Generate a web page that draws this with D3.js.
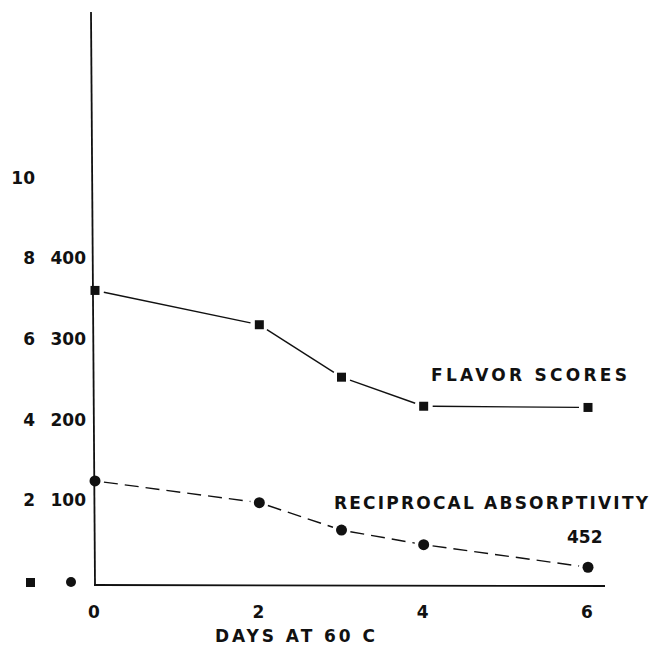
<!DOCTYPE html>
<html><head><meta charset="utf-8">
<script src="https://cdn.jsdelivr.net/npm/d3@7"></script>
<style>body{margin:0;background:#fff}svg{display:block}text{font-family:"DejaVu Sans",sans-serif;font-weight:bold;fill:#111}</style>
</head><body>
<script>
const days = [0, 2, 3, 4, 6];
const flavorScores = [7.2, 6.35, 5.05, 4.33, 4.3];
const reciprocalAbsorptivity = [124, 97, 63, 45, 17];
const xTicks = [0, 2, 4, 6];
const flavorTicks = [2, 4, 6, 8, 10];
const absTicks = [100, 200, 300, 400];

const W = 652, H = 660;
const svg = d3.select("body").append("svg").attr("width", W).attr("height", H);

const x = d3.scaleLinear().domain([0, 6]).range([95, 588]);
const yF = d3.scaleLinear().domain([-0.1, 14.1]).range([585, 12]);
const yA = d3.scaleLinear().domain([-5, 705]).range([585, 12]);

// axes lines
svg.append("line").attr("x1", 91).attr("x2", 95).attr("y1", 12).attr("y2", 585)
  .attr("stroke", "#111").attr("stroke-width", 1.8);
svg.append("line").attr("x1", 94).attr("x2", 605).attr("y1", 585).attr("y2", 586)
  .attr("stroke", "#111").attr("stroke-width", 1.8);

// left tick labels (flavor)
svg.selectAll(".tf").data(flavorTicks).enter().append("text")
  .attr("x", 35).attr("y", d => yF(d)).attr("dy", "0.36em")
  .attr("text-anchor", "end").attr("font-size", 17).text(d => d);
// right tick labels (absorptivity)
svg.selectAll(".ta").data(absTicks).enter().append("text")
  .attr("x", 86).attr("y", d => yA(d)).attr("dy", "0.36em")
  .attr("text-anchor", "end").attr("font-size", 17).text(d => d);
// axis legend symbols
svg.append("rect").attr("x", 26).attr("y", 578).attr("width", 9).attr("height", 9).attr("fill", "#111");
svg.append("circle").attr("cx", 71).attr("cy", 582).attr("r", 5).attr("fill", "#111");

// x tick labels
svg.selectAll(".tx").data(xTicks).enter().append("text")
  .attr("x", d => x(d) - 1).attr("y", 612).attr("dy", "0.36em")
  .attr("text-anchor", "middle").attr("font-size", 17).text(d => d);

svg.append("text").attr("x", 215).attr("y", 636).attr("dy", "0.36em")
  .attr("font-size", 17)
  .attr("textLength", 160).attr("lengthAdjust", "spacing").text("DAYS AT 60 C");

// series data
const fl = days.map((d, i) => ({x: x(d), y: yF(flavorScores[i])}));
const ab = days.map((d, i) => ({x: x(d), y: yA(reciprocalAbsorptivity[i])}));

function segs(pts, gap) {
  const out = [];
  for (let i = 0; i < pts.length - 1; i++) {
    const a = pts[i], b = pts[i + 1];
    const dx = b.x - a.x, dy = b.y - a.y, L = Math.hypot(dx, dy);
    const ux = dx / L, uy = dy / L;
    out.push([[a.x + ux * gap, a.y + uy * gap], [b.x - ux * gap, b.y - uy * gap]]);
  }
  return out;
}
const line = d3.line();
svg.selectAll(".fs").data(segs(fl, 9)).enter().append("path")
  .attr("d", line).attr("fill", "none").attr("stroke", "#111").attr("stroke-width", 1.4);
svg.selectAll(".as").data(segs(ab, 9)).enter().append("path")
  .attr("d", line).attr("fill", "none").attr("stroke", "#111").attr("stroke-width", 1.4)
  .attr("stroke-dasharray", "14,7");

svg.selectAll(".fm").data(fl).enter().append("rect")
  .attr("x", d => d.x - 4.5).attr("y", d => d.y - 4.5).attr("width", 9).attr("height", 9).attr("fill", "#111");
svg.selectAll(".am").data(ab).enter().append("circle")
  .attr("cx", d => d.x).attr("cy", d => d.y).attr("r", 5.5).attr("fill", "#111");

svg.append("text").attr("x", 431).attr("y", 375).attr("dy", "0.36em").attr("font-size", 17)
  .attr("textLength", 196).attr("lengthAdjust", "spacing").text("FLAVOR SCORES");
svg.append("text").attr("x", 334).attr("y", 503).attr("dy", "0.36em").attr("font-size", 17)
  .attr("textLength", 314).attr("lengthAdjust", "spacing").text("RECIPROCAL ABSORPTIVITY");
svg.append("text").attr("x", 567).attr("y", 537).attr("dy", "0.36em").attr("font-size", 17)
  .text("452");
</script>
</body></html>
